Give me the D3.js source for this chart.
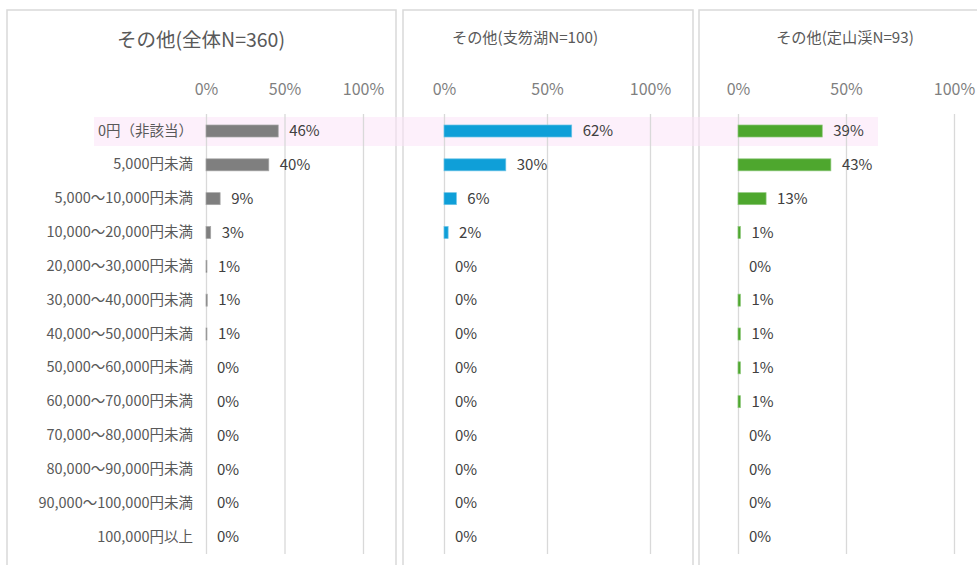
<!DOCTYPE html>
<html><head><meta charset="utf-8">
<script src="https://cdn.jsdelivr.net/npm/d3@7"></script>
<style>
body{margin:0;background:#fff;font-family:"Noto Sans CJK JP","Noto Sans",sans-serif}
svg{display:block}
</style></head>
<body><svg id="c" width="977" height="565"></svg>
<script>
// categories and shares (%)
const categories = ['0円（非該当）','5,000円未満','5,000〜10,000円未満','10,000〜20,000円未満',
  '20,000〜30,000円未満','30,000〜40,000円未満','40,000〜50,000円未満','50,000〜60,000円未満',
  '60,000〜70,000円未満','70,000〜80,000円未満','80,000〜90,000円未満','90,000〜100,000円未満','100,000円以上'];
const totalVals   = [46, 40, 9, 3, 0.6, 0.8, 0.6, 0, 0, 0, 0, 0, 0];
const shikotsuVals = [62, 30, 6, 2, 0, 0, 0, 0, 0, 0, 0, 0, 0];
const jozankeiVals = [39, 43, 13, 1.1, 0, 1.1, 1.1, 1.1, 1.1, 0, 0, 0, 0];
const ticks = [0, 50, 100];

const panels = [
  { title: 'その他(全体N=360)', vals: totalVals, color: '#7f7f7f', stroke: '#a6a6a6',
    box: [7, 10, 396], x0: 206, x1: 363, tx: 201, ty: 42, tfs: 19.5, cats: true },
  { title: 'その他(支笏湖N=100)', vals: shikotsuVals, color: '#0f9fd8', stroke: '#6cc3e6',
    box: [403, 10, 693], x0: 444, x1: 650, tx: 525, ty: 39, tfs: 15.2 },
  { title: 'その他(定山渓N=93)', vals: jozankeiVals, color: '#4ea72e', stroke: '#8cc77a',
    box: [699, 10, 992], x0: 738, x1: 954, tx: 845, ty: 39, tfs: 15.2 },
];

const svg = d3.select('#c');
const y = d3.scaleBand().domain(categories).range([114, 554]).paddingInner(0.645).paddingOuter(0.325);

// panel frames
panels.forEach(p => {
  svg.append('rect').attr('x', p.box[0]).attr('y', p.box[1])
    .attr('width', p.box[2] - p.box[0]).attr('height', 600)
    .attr('fill', '#fff').attr('stroke', '#d9d9d9').attr('stroke-width', 1.5);
});

// highlight of the first row across all panels
svg.append('rect').attr('x', 94).attr('width', 784)
  .attr('y', y(categories[0]) + y.bandwidth() / 2 - 14).attr('height', 29)
  .attr('fill', '#fbe4f7').attr('opacity', 0.55);

panels.forEach(p => {
  const x = d3.scaleLinear().domain([0, 100]).range([p.x0, p.x1]);
  const g = svg.append('g');

  g.append('text').attr('x', p.tx).attr('y', p.ty).attr('text-anchor', 'middle')
    .attr('dominant-baseline', 'middle').attr('font-size', p.tfs).attr('fill', '#595959').text(p.title);

  // gridlines
  g.append('g').attr('transform', 'translate(0,114)')
    .call(d3.axisBottom(x).tickValues(ticks).tickSize(440).tickFormat(''))
    .call(a => a.select('.domain').remove())
    .call(a => a.selectAll('line').attr('stroke', '#d9d9d9').attr('stroke-width', 1.3));

  // tick labels
  g.append('g').attr('transform', 'translate(0,89)')
    .call(d3.axisTop(x).tickValues(ticks).tickSize(0).tickPadding(0).tickFormat(d => d + '%'))
    .call(a => a.select('.domain').remove())
    .call(a => a.selectAll('text').attr('font-size', 16).attr('fill', '#7f7f7f')
      .attr('font-family', '"Noto Sans CJK JP","Noto Sans",sans-serif')
      .attr('y', 0).attr('dy', '0.35em'));

  if (p.cats) {
    g.append('g').attr('transform', `translate(${p.x0},0)`)
      .call(d3.axisLeft(y).tickSize(0).tickPadding(13))
      .call(a => a.select('.domain').remove())
      .call(a => a.selectAll('text').attr('font-size', 14.5).attr('fill', '#595959')
        .attr('font-family', '"Noto Sans CJK JP","Noto Sans",sans-serif'));
  }

  const rows = categories.map((c, i) => ({ c, v: p.vals[i] }));
  g.selectAll('rect.bar').data(rows.filter(d => d.v > 0)).join('rect').attr('class', 'bar')
    .attr('x', x(0)).attr('y', d => y(d.c))
    .attr('width', d => x(d.v) - x(0)).attr('height', y.bandwidth())
    .attr('fill', p.color).attr('stroke', p.stroke).attr('stroke-width', 0.7);

  g.selectAll('text.val').data(rows).join('text').attr('class', 'val')
    .attr('x', d => x(d.v) + 11).attr('y', d => y(d.c) + y.bandwidth() / 2)
    .attr('dy', '0.35em').attr('font-size', 15).attr('fill', '#404040')
    .text(d => Math.round(d.v) + '%');
});
</script></body></html>
